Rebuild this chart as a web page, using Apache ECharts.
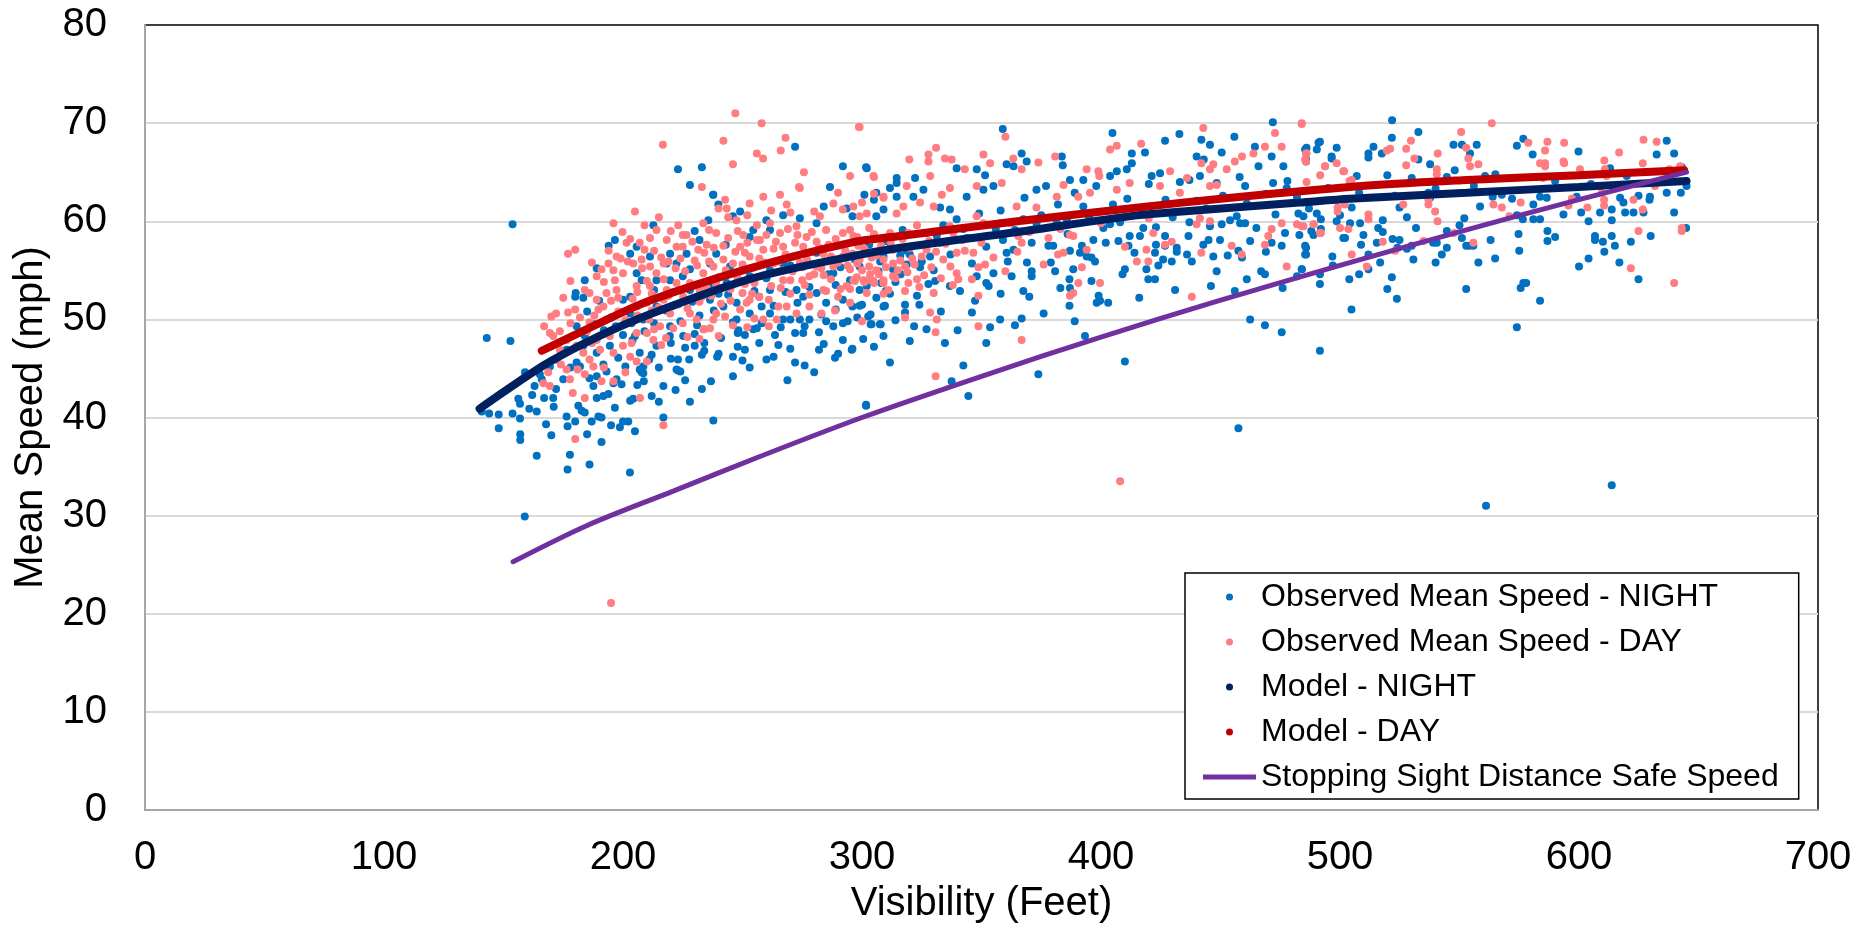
<!DOCTYPE html>
<html>
<head>
<meta charset="utf-8">
<title>Mean Speed vs Visibility</title>
<script src="https://cdn.jsdelivr.net/npm/echarts@6/dist/echarts.min.js"></script>
<style>
  html, body { margin: 0; padding: 0; background: #ffffff; }
  #chart { width: 1866px; height: 929px; }
</style>
</head>
<body>
<div id="chart"></div>
<script>
"use strict";

// [visibility (ft), mean speed (mph)]
var nightObserved = [
  [153.8,59.7],[143,48.1],[152.9,47.8],[140.9,40.6],[144,40.4],[148,40.3],[148,38.9],[153.8,40.4],[156.9,39.9],[157,38.3],
  [157,37.7],[160.8,40.9],[163.9,40.6],[167.8,39.3],[163.9,36.1],[158.9,29.9],[156.2,41.9],[156.9,41.4],[163,43.2],[166,43.9],
  [167,42.0],[170.8,42.0],[172,42.9],[176.4,40.1],[176.8,39.1],[177.8,36.2],[176.8,34.7],[180,39.6],[181.3,41.2],[182.7,40.7],
  [184,40.5],[186,35.2],[186.9,39.6],[189.7,40.1],[191,40.0],[191,37.5],[189,42.0],[191.8,42.2],[193.9,42.4],[196.6,41.0],
  [198.7,39.0],[200,39.6],[202.2,39.6],[202.9,34.4],[203,41.7],[204.3,41.9],[216.9,40.0],[237.8,39.7],[233,42.9],[236.8,43.7],
  [223,44.8],[224,44.7],[227.7,45.9],[216.9,43.2],[208.5,45.2],[208.7,43.7],[208.5,44.5],[189,55.2],[194,57.5],[196.6,58.1],
  [203,56.7],[212.7,59.6],[237.8,62.7],[239.9,61.7],[235.7,60.1],[246,60.5],[249,61.0],[230,59.0],[232,58.1],[267,60.6],
  [274,60.3],[286.6,63.5],[301,62.7],[305,62.2],[314.5,63.9],[314.5,62.5],[302.6,50.3],[307.5,49.5],[304,49.5],[309,48.3],
  [311.7,45.6],[301.7,41.2],[295.7,46.9],[288.7,46.1],[282,48.7],[284,47.5],[282,46.9],[272,45.6],[268.8,43.8],[275.4,48.6],
  [272,48.6],[263.6,48.4],[266,49.2],[253,45.1],[251,46.9],[246,46.2],[254.5,49.0],[256,49.1],[248,48.6],[248.3,48.9],
  [240,46.5],[239.4,46.2],[234,46.8],[233,46.4],[230,47.3],[230,48.5],[220,47.6],[219.6,48.3],[223,45.9],[222.4,44.9],
  [207,44.9],[207.8,44.6],[211,45.9],[191.8,45.4],[193.1,44.7],[196,43.5],[197.3,43.9],[199.4,43.4],[186,44.0],[187.6,43.2],
  [189,44.2],[180.6,45.6],[182,45.2],[184,54.0],[183.4,52.2],[180,52.3],[180.2,52.7],[180.6,49.3],[182.7,48.6],[184,48.3],
  [203,50.6],[203.6,49.6],[200,48.4],[200,52.0],[203,52.3],[205.7,54.7],[207.8,54.0],[214,54.0],[213,53.0],[225,54.4],
  [228,55.1],[222.4,55.7],[226.6,56.7],[243.4,53.7],[247.5,51.7],[257,52.3],[261.5,53.0],[258,51.3],[272.6,53.0],[275.4,52.3],
  [281,52.7],[285,51.7],[292,52.0],[296,51.3],[300,51.5],[274,50.0],[270,50.0],[289,53.5],[295,54.0],[302,53.4],
  [308,53.7],[313,55.1],[312,57.4],[309,61.2],[306,60.5],[296,60.5],[293.6,61.3],[281,59.8],[284,61.5],[260,60.1],
  [261.5,59.1],[254.5,59.1],[253,58.4],[243,57.6],[239,56.7],[219.7,56.7],[218.3,55.7],[205.7,57.4],[211.3,56.4],[219.7,54.0],
  [228,53.0],[236.4,52.0],[242,51.3],[247.5,50.0],[253,50.6],[261.5,50.6],[267,50.0],[278,50.0],[288,49.3],[292,49.6],
  [300.5,48.0],[309,51.3],[267,55.7],[275.4,55.4],[288,54.7],[299,55.4],[309,56.4],[261.5,55.0],[253,54.4],[244.8,55.4],
  [236.4,55.7],[214,51.3],[208.5,50.0],[219.7,49.3],[225.2,48.3],[214,47.3],[207,46.6],[194.5,47.3],[189,46.6],[183.4,47.3],
  [176.4,46.9],[172.2,45.9],[169.4,45.2],[165.2,44.4],[223,65.3],[233,65.5],[228,63.7],[237.7,62.7],[272,67.6],[292,65.6],
  [301.7,65.5],
  [185,50.8],[188,49.5],[192,48.9],[195,50.2],[198,46.1],[201,45.2],[204,47.9],[206,43.3],[209,48.8],[212,46.4],
  [215,45.1],[218,50.9],[220,46.0],[224,49.8],[226,47.1],[229,51.8],[231,49.4],[234,47.6],[236,53.5],[238,50.9],
  [241,48.1],[244,52.5],[246,49.7],[249,53.8],[251,48.4],[255,52.9],[258,49.6],[260,54.2],[263,51.4],[265,47.4],
  [268,52.8],[270,55.5],[273,51.7],[276,49.3],[278,53.3],[281,56.8],[283,50.5],[286,54.6],[289,51.0],[291,55.3],
  [294,49.8],[297,56.1],[299,53.0],[303,57.6],[306,52.2],[310,58.0],[314,53.8],[317,59.1],[320,56.6],[323,52.4],
  [327,58.8],[330,55.0],[334,59.6],[337,56.6],[341,52.9],[344,58.3],[346,55.7],[349,60.8],[352,57.4],[355,54.7],
  [358,61.1],[361,55.9],[364,59.1],[368,62.4],[371,57.8],[375,60.6],[379,55.8],[382,61.7],[386,58.7],[389,62.9],
  [392,57.5],[395,60.4],[398,63.6],[402,57.8],[405,61.7],[408,59.9],[411,62.3],[414,56.8],[417,61.1],[420,63.8],
  [423,59.4],[427,62.2],[430,60.4],[433,64.0],[437,59.9],[440,62.1],[444,61.3],[447,56.4],[451,62.6],[454,60.1],
  [458,64.5],[461,61.8],[465,59.3],[469,62.8],[473,60.7],[478,64.1],[482,62.5],[487,61.3],[495,63.4],[500,60.6],
  [508,62.9],[515,63.7],[523,62.6],[530,64.4],[540,63.3],[548,65.2],[556,63.6],[565,64.8],[572,62.3],[590,64.1],
  [605,63.8],[620,64.6],[635,64.2],[212,42.2],[222,42.8],[228,41.6],[246,44.2],[260,45.9],[280,44.6],[292,47.9],
  [175,43.9],[171,41.1],[178,45.1],[162,42.3],[159,44.6],
  [250,45.8],[257,47.6],[263,46.2],[270,47.0],[276,45.3],[285,49.8],[290,46.5],[298,50.2],[305,47.2],[314,49.9],
  [320,47.8],[327,49.0],[333,50.8],[340,48.9],[346,50.7],[352,47.6],[358,52.6],[364,49.4],[370,52.3],[376,50.6],
  [383,53.2],[389,49.8],[396,53.9],[403,51.7],[409,54.6],[416,52.2],[424,55.5],[431,53.0],[438,55.9],[446,53.4],
  [453,56.5],[461,54.1],[469,56.9],[476,53.2],[483,58.6],[497,55.5],[508,54.6],[516,59.3],[528,57.2],[540,55.8],
  [552,60.3],[563,58.1],[575,57.0],[590,58.4],[600,55.4],[615,57.5],[630,58.5],[190,51.9],[197,49.3],[205,48.3],
  [213,49.6],[221,51.4],[232,50.4],[240,52.6],[248,47.2],[195,39.2],[205,38.6],[215,41.6],[226,43.8],[185,38.3],
  [170,38.2],
  [358.9,69.4],[404.8,69.0],[432.8,68.9],[426.8,68.2],[418.4,67.0],[412.9,66.9],[455.8,68.6],[471.9,70.1],[491.6,68.1],[490.3,67.3],
  [498.6,67.5],[496.5,66.4],[442,68.3],[445.6,67.8],[450.5,67.0],[440,66.6],[443,66.3],[464.4,67.6],[465.9,65.6],[471.4,66.6],
  [476.3,65.6],[485.4,67.3],[485.8,66.1],[366.8,66.9],[368.9,66.1],[360.5,65.8],[363.4,65.6],[383.6,66.6],[384,65.7],[302,65.4],
  [314.5,64.4],[322.2,64.4],[339.6,65.4],[348,65.3],[351.5,64.7],[406.6,65.1],[410.8,65.3],[403.8,64.6],[412.9,65.9],[424.7,64.9],
  [421.2,64.6],[437,64.2],[441.4,64.6],[448.4,63.9],[460.3,63.6],[472,63.9],[477.7,63.4],[482.6,60.8],[490.3,60.8],[501.4,58.3],
  [456.8,60.5],[458.2,59.8],[460.3,59.8],[445.6,59.5],[450.5,59.7],[449.8,58.1],[462.4,58.0],[448.4,54.9],[456,52.9],[462.4,50.0],
  [468.6,49.4],[475.6,48.7],[491.6,46.8],[491.6,54.6],[491.6,53.6],[482,54.4],[484,55.1],[467,54.9],[468.6,54.6],[485.4,57.5],
  [485.4,56.6],[471.4,57.8],[475.6,57.5],[477,58.8],[457.5,57.0],[459,56.3],[436.6,58.5],[442.8,57.6],[445,58.1],[426.8,58.5],
  [426.8,57.5],[431.7,57.3],[423,57.6],[422.6,56.8],[426,56.1],[431.7,56.9],[436,56.6],[429.6,55.9],[419,55.1],[419.8,54.1],
  [422.6,54.1],[410,55.1],[407.3,58.0],[411.5,57.5],[412,58.5],[416.3,58.5],[417.7,59.3],[401,59.3],[403.8,59.7],[396.8,58.1],
  [396,56.3],[397.5,55.9],[399,52.4],[399.6,51.9],[398.2,51.7],[394,56.4],[391.2,56.8],[387,57.0],[388.4,55.1],[386.8,54.1],
  [387,53.2],[386.8,51.4],[380.8,54.9],[378,57.5],[380,57.5],[371,54.9],[371,54.4],[369,55.8],[367.5,52.9],[362.6,54.4],
  [360.5,56.8],[363.4,57.1],[366.8,50.1],[357.8,50.0],[353.6,49.2],[373.8,44.4],[352,53.7],[353,53.4],[348,54.4],[347.3,51.9],
  [336.8,53.4],[330.6,53.9],[327.8,53.6],[324.3,55.3],[325,55.9],[334.7,47.6],[337.5,43.7],[342.4,45.3],[344.5,42.2],[324,51.5],
  [318,50.7],[318,51.5],[321.8,49.3],[309.6,51.4],[299,51.4],[303.6,50.5],[303.6,49.5],[307.8,49.5],[296,47.0],[301.7,41.3],
  [310,52.9],[311.7,52.6],[316.2,54.6],[318.7,55.6],[316,56.5],[318.7,57.0],[307.6,55.9],[306.9,54.9],[410,45.7],[393.3,48.3],
  [457.5,38.9],[328.5,56.4],[332.7,57.8],[331.3,58.5],[339.6,60.2],[342.4,59.2],[356,59.2],[359,58.1],[367.5,60.2],[373,59.8],
  [381.5,59.8],[385.7,60.2],[392.6,61.5],[343.8,62.5],[350.8,63.2],[355,63.6],[373,63.2],[377,63.6],[387,64.2],[392.6,64.2],
  [321.5,62.5],[325.7,63.2],[306,62.9],[311.7,63.4],[332.7,61.4],[336.8,61.2],
  [521.8,70.3],[532.8,69.1],[576.7,68.4],[574,67.7],[636.7,68.2],[639.8,66.9],[632.5,66.8],[599.8,67.1],[491,68.0],[514,67.6],
  [511.9,66.9],[511.9,66.5],[517.5,66.9],[521.7,68.5],[519.8,64.7],[547.5,67.8],[551,67.8],[557.2,67.8],[554.4,66.9],[537.7,65.8],
  [532.8,66.3],[507,64.6],[544.7,64.5],[560.7,64.6],[486,67.5],[485.8,66.3],[496.5,66.6],[580.6,66.8],[643,65.5],[645,63.6],
  [642.6,62.9],[636.7,62.9],[639.8,60.9],[644.8,59.3],[629.7,62.5],[629.5,62.2],[624.9,62.6],[627,60.9],[622.8,60.9],[619.3,60.9],
  [621.7,57.9],[624.9,54.1],[616.9,55.8],[613.7,58.5],[613.7,60.1],[613.7,61.2],[617.2,62.4],[618.6,61.9],[613,65.4],[608.8,60.9],
  [610,57.9],[610.6,56.9],[606.7,58.5],[606.7,58.1],[604,56.2],[604,60.0],[600.9,60.9],[599,62.5],[593.5,60.7],[586.5,62.4],
  [586.8,59.0],[586.8,58.0],[583.7,62.5],[583.7,60.2],[580.9,60.2],[580.9,61.7],[583.7,51.9],[576.7,53.7],[575.6,53.2],[577.9,53.7],
  [574,49.2],[574.7,58.7],[574,60.6],[576.5,60.2],[564.9,56.2],[557.9,55.8],[552.8,53.1],[555.8,57.5],[554.1,57.5],[558.6,61.5],
  [550,59.6],[551,58.3],[552.8,57.5],[567.7,62.7],[563.9,62.5],[544.7,59.0],[544.7,57.3],[542.6,56.6],[539,57.8],[540.5,57.8],
  [537.7,62.4],[537,62.9],[530.7,56.1],[530,57.5],[531.8,59.3],[524.9,61.4],[528,60.4],[524,57.3],[522,58.2],[524.9,58.1],
  [521.7,54.3],[519.8,53.1],[523.8,52.1],[517.9,60.1],[517.9,58.9],[516.8,55.8],[515.4,57.8],[511.9,56.6],[511.9,55.1],[509.8,58.6],
  [508.8,57.6],[508.4,59.8],[504.9,61.4],[504.2,59.8],[503.9,54.1],[504.8,51.0],[502.1,58.3],[498.6,60.0],[496.8,56.4],[492,60.2],
  [492,59.2],[485.8,57.3],[485.8,56.6],[484,55.1],[488,59.0],[488.9,58.6],[484.7,60.5],[561.1,31.0],[613.7,33.1]
];

var dayObserved = [
  [177,56.7],[180,57.1],[199.8,58.9],[167,49.3],[170,50.3],[169.4,48.6],[173.6,48.8],[177,50.7],[180,51.0],[168.7,44.6],
  [166.7,43.5],[169.4,43.2],[176.4,44.9],[177.8,43.9],[179,42.5],[180,37.8],[184,44.4],[187.6,45.2],[184,42.0],[184,53.0],
  [186,52.7],[189,54.4],[189.7,51.0],[191.8,51.3],[193,50.0],[193.9,55.7],[196,55.0],[196.6,54.0],[204.3,55.7],[207.8,56.1],
  [211.3,55.4],[207,57.8],[211.3,58.3],[214,59.1],[203.6,47.6],[203,46.2],[205.7,45.7],[210,45.7],[207.1,42.0],[216.9,39.2],
  [196,43.7],[191,43.7],[217,55.7],[222.4,57.4],[223.1,59.6],[226.6,58.6],[231.5,57.1],[235,57.6],[228,50.6],[230.8,50.0],
  [233.6,49.0],[237.8,50.0],[239,50.6],[242.7,50.3],[234,49.0],[236.4,49.1],[242.7,62.2],[243.4,61.3],[253,61.8],[258.7,62.5],
  [265.7,62.7],[268.5,61.7],[274,63.4],[250.3,58.6],[256,59.6],[261.5,59.8],[250,52.7],[253,52.0],[257,52.3],[265,51.3],
  [268.5,51.3],[267,54.0],[270,54.0],[275,54.0],[278,54.4],[281,55.4],[282.4,60.5],[288,61.8],[292,61.2],[299,60.5],
  [305,62.8],[309,62.5],[288.7,50.9],[293.6,53.4],[296.4,54.0],[302,54.0],[305,53.7],[309,54.0],[306,55.0],[313,54.4],
  [314.5,60.8],[258.7,50.0],[255,50.1],[249,51.0],[251.7,51.7],
  [197.3,53.0],[200,54.7],[205.7,53.4],[211.3,53.4],[214,54.7],[218.3,53.0],[222.4,53.7],[225.2,52.3],[232,53.0],[233.6,54.7],
  [237.8,55.4],[242,56.1],[246,55.7],[249,57.4],[253,56.4],[258.7,57.1],[263,55.7],[267,57.4],[271.3,56.4],[275.4,57.4],
  [278,55.7],[283.8,56.7],[288,55.4],[292,56.4],[295,55.1],[299,56.1],[303,55.4],[309,56.1],[313,55.7],[211,50.0],
  [215.5,49.3],[219.7,50.6],[225,49.6],[205.7,48.6],[212.7,47.9],[200,47.3],[194.5,48.3],[190.4,46.9],[186,45.9],[183.4,46.6],
  [180.6,47.3],[176.4,47.9],[173.6,46.9],[170.8,48.3],[189,47.9],[205.7,51.3],[210,51.7],[217,52.0],[193.1,52.7],[189,52.0],
  [197.3,56.4],[201.5,57.8],[218.3,58.1],[225,57.4],[233.6,59.8],[239,58.8],[247.5,60.1],[257.3,58.1],[265.7,58.8],[272.6,59.5],
  [276.8,58.4],[285,59.1],[295,59.1],[303.3,58.1],[311.7,58.8],[278,51.3],[283.8,53.0],[295,51.7],[264.3,50.0],[272.6,50.6],
  [192,53.8],[195,51.9],[198,50.8],[201,49.9],[204,52.1],[206,50.4],[208,55.2],[210,53.9],[212,52.6],[215,51.2],
  [217,54.1],[219,55.9],[221,52.8],[223,51.5],[224,56.2],[226,54.9],[228,53.7],[229,57.9],[231,55.5],[232,51.8],
  [234,56.8],[235,53.2],[237,52.4],[238,57.3],[240,54.3],[241,51.6],[243,55.0],[244,58.3],[245,53.1],[247,56.9],
  [248,54.2],[250,55.6],[251,53.6],[252,57.8],[254,55.2],[255,53.7],[257,56.2],[259,54.5],[260,58.6],[262,53.4],
  [263,57.2],[265,55.9],[266,53.2],[268,56.6],[269,59.2],[271,54.9],[272,57.8],[274,55.8],[276,53.5],[277,56.1],
  [279,58.9],[280,54.6],[282,57.3],[283,55.2],[285,52.9],[286,57.6],[287,54.1],[289,58.2],[290,55.8],[291,53.1],
  [293,57.0],[294,55.5],[296,56.7],[297,53.9],[298,58.4],[300,55.0],[301,57.2],[302,52.7],[304,56.3],[305,58.7],
  [307,54.6],[308,57.5],[310,55.3],[311,53.0],[313,57.1],[314,54.2],[316,56.0],[317,58.2],[319,54.8],[320,57.3],
  [322,55.6],[323,59.6],[325,56.4],[326,54.5],[328,58.0],[329,55.3],[331,56.9],[333,54.2],[335,57.7],[337,55.4],
  [210,48.6],[216,47.4],[221,49.1],[227,48.2],[182,50.2],[186,49.7],[188,50.4],[178,49.6],[175,52.2],[199,56.2],
  [203,58.2],[209,59.6],[213,57.0],[220,59.0],[236,59.1],[244,60.4],[252,60.6],[262,61.1],[270,60.9],[280,61.0],
  [290,62.9],[240,61.3],[215,60.4],[205,61.0],[196,59.8],
  [191,55.1],[194,57.0],[198,52.2],[202,55.9],[206,52.8],[209,57.1],[212,50.9],[216,56.3],[219,52.4],[222,55.2],
  [225,58.6],[227,51.1],[230,56.0],[233,52.3],[236,55.9],[239,53.6],[242,57.5],[245,51.9],[248,59.0],[251,56.8],
  [254,52.6],[256,58.1],[259,55.8],[261,52.0],[264,57.9],[267,55.0],[270,52.6],[273,58.6],[275,55.3],[278,52.5],
  [281,57.9],[284,54.5],[287,56.4],[290,52.3],[292,58.8],[295,53.1],[298,55.7],[301,53.8],[303,59.3],[306,56.5],
  [309,52.6],[312,57.9],[315,55.0],[318,52.9],[321,56.2],[324,53.3],[327,57.1],[330,52.7],[334,56.1],[338,53.5],
  [342,58.1],[346,54.1],[350,57.8],[355,56.3],[360,54.9],[365,56.9],[370,58.9],[376,55.6],[383,59.2],[392,55.3],
  [400,59.8],[410,57.4],[420,60.3],[185,48.8],[181,44.9],[187,47.6],[192,45.1],[196,46.6],[201,44.6],[174,45.4],
  [172,50.6],[178,53.9],[187,55.8],[213,49.0],[218,48.1],[232,48.0],[240,48.3],[246,49.4],[252,49.2],[261,49.3],
  [283,50.6],[300,49.8],[318,50.2],
  [216.7,67.8],[247,71.0],[258,70.0],[242,68.2],[268,68.5],[266,67.2],[256,66.9],[258.6,66.4],[246,65.8],[298.7,69.6],
  [233,63.5],[275.7,65.0],[273.6,63.5],[295,64.6],[305,64.5],[195,21.1],[408,33.5],
  [299,69.6],[360,68.6],[331,67.5],[327.8,66.8],[327.8,66.1],[319.8,66.3],[334.7,66.4],[337.5,66.3],[350.8,66.8],[353.6,65.9],
  [363.3,66.4],[366.8,65.3],[373.8,66.0],[380.8,66.6],[394,65.3],[398.9,65.1],[399.3,64.6],[403.8,67.3],[406.6,67.7],[416.8,67.9],
  [442.8,69.5],[442,65.9],[472.8,69.0],[475.6,67.6],[484,69.9],[468.6,67.6],[463.8,66.9],[486,66.9],[485.4,66.3],[493.7,65.6],
  [501.4,65.1],[456,66.1],[452.6,65.3],[459,66.6],[447,65.8],[445.6,65.3],[428.9,65.1],[436,64.4],[424.7,63.6],[433,62.9],
  [412,63.9],[406.6,63.2],[445.6,63.6],[448.4,63.7],[440,59.7],[441.4,60.3],[445.6,60.0],[468.6,57.6],[470,58.5],[482,59.7],
  [484.7,59.5],[489,59.7],[471.4,59.2],[475.6,59.8],[491.6,58.8],[500,59.3],[454.7,57.5],[458.9,56.6],[477.7,55.4],[442,56.8],
  [421.9,58.8],[419,57.1],[415,55.9],[419.8,55.9],[426.8,57.6],[429.6,57.9],[438,52.3],[378,58.3],[382,56.6],[384.3,56.8],
  [387,58.6],[388.4,58.5],[394,57.1],[399.6,53.7],[390.5,53.7],[387,52.4],[388.4,52.7],[366.8,57.8],[365.4,58.5],[357.8,59.8],
  [362,59.8],[348,60.5],[350.8,59.8],[336.8,59.5],[338.2,58.8],[339.6,56.8],[343,57.0],[346.6,56.8],[348.7,55.3],[351.5,55.6],
  [339.6,54.7],[340.3,54.1],[348.7,52.4],[348.7,49.3],[366.8,47.9],[330.8,48.7],[330.8,44.2],[328.5,50.7],[331.3,50.0],[323,54.1],
  [319.4,53.7],[318,55.4],[309,53.7],[304.8,53.9],[300.6,54.0],[303.4,54.6],[297.8,54.3],[298.5,57.5],[296.4,58.5],[303.4,58.1],
  [311.7,58.5],[319.4,58.8],[302,60.8],[309,62.4],[296.4,61.5],[300,61.9],[317.3,61.5],[324.3,61.9],[330,61.5],[318.7,63.6],
  [328.5,64.6],[333.4,62.7],[336.8,63.4],[304.8,64.6],[343,65.3],[348,63.6],[358.5,63.9],[364.7,61.5],[373,61.4],[381.5,62.5],
  [384.3,63.7],[390.5,62.5],[395.4,62.9],
  [563.5,70.0],[484,70.0],[550.7,69.1],[529.7,68.2],[527.7,67.4],[521,67.4],[519.6,67.2],[552.8,67.5],[553.7,66.4],[554.4,65.6],
  [557.9,65.8],[531.1,66.4],[527.7,65.7],[540.9,66.9],[540.5,65.3],[540.5,64.8],[578.8,68.0],[586.8,68.1],[585.8,67.2],[593.8,68.0],
  [593.5,66.1],[593.8,65.9],[585.8,65.9],[585.8,65.6],[627,68.3],[632.5,68.1],[616.8,67.0],[610.6,66.2],[626.7,65.9],[610.8,65.3],
  [611.5,64.6],[637.8,65.3],[642.3,65.6],[485.8,66.9],[485.8,66.1],[493.8,65.6],[498.6,65.9],[501.7,65.1],[491.7,64.7],[486,64.0],
  [504.9,64.2],[504,64.1],[499,61.4],[499,61.0],[502,61.7],[503.5,59.2],[504.9,56.6],[492,58.8],[488.9,59.7],[484,59.5],
  [511.9,60.7],[511.9,60.2],[511.2,55.4],[517.9,57.9],[523,57.0],[526.5,61.7],[537,61.7],[537,62.2],[539.8,61.0],[540.8,60.0],
  [534.9,58.0],[547.7,58.8],[555.8,57.8],[564.2,61.7],[567.7,61.4],[570.9,60.5],[575.6,61.9],[595.6,61.6],[597,62.3],[603.5,61.4],
  [610.5,61.6],[622.8,62.2],[626.7,61.2],[624.9,59.0],[621.7,55.2],[643,59.3],[643,59.0],[639.8,53.7],[609.5,62.9],[610.5,62.2],
  [631.8,63.6],[585,64.4],[583.7,65.9],[600.4,65.3]
];

var nightModel = [
  [140,40.9],[153,43.1],[169.5,45.7],[190,48.3],[211,50.5],[253,54.1],[295,56.4],[316,57.3],
  [365,58.9],[415,60.6],[434,61.0],[483,61.9],[504,62.3],[553,62.9],[600,63.5],[645,64.1]
];

var dayModel = [
  [166,46.8],[190,49.6],[211,51.9],[253,55.2],[295,57.8],[316,58.5],[365,60.0],[434,61.9],
  [504,63.5],[553,64.2],[600,64.7],[644,65.2]
];

var ssdLine = [
  [154,25.3],[185,29],[221,32.5],[257,36],[300,40],[350,44.2],[400,48.2],[448,51.8],
  [500,55.5],[551,59],[600,62.2],[645,65]
];

var seriesNames = [
  "Observed Mean Speed - NIGHT",
  "Observed Mean Speed - DAY",
  "Model - NIGHT",
  "Model - DAY",
  "Stopping Sight Distance Safe Speed"
];

var xRange = { min: 0, max: 700, step: 100 };
var yRange = { min: 0, max: 80, step: 10 };

var FONT = "'Liberation Sans', Arial, sans-serif";

var chart = echarts.init(document.getElementById("chart"), null, { renderer: "canvas" });

var option = {
  animation: false,
  backgroundColor: "#ffffff",
  textStyle: { fontFamily: FONT, color: "#000000" },
  grid: {
    left: 145,
    right: 48,
    top: 25,
    bottom: 117,
    show: true,
    borderColor: "#000000",
    borderWidth: 1.5,
    backgroundColor: "transparent"
  },
  legend: {
    orient: "vertical",
    left: 1185,
    top: 573,
    padding: [8, 20, 6, 18],
    itemGap: 13,
    itemWidth: 53,
    itemHeight: 7,
    backgroundColor: "#ffffff",
    borderColor: "#000000",
    borderWidth: 1.5,
    textStyle: { fontSize: 32, color: "#000000", fontFamily: FONT },
    data: [
      { name: seriesNames[0], icon: "circle" },
      { name: seriesNames[1], icon: "circle" },
      { name: seriesNames[2], icon: "circle" },
      { name: seriesNames[3], icon: "circle" },
      { name: seriesNames[4], icon: "path://M0,0 L53,0 L53,5 L0,5 Z" }
    ]
  },
  xAxis: {
    type: "value",
    min: xRange.min,
    max: xRange.max,
    interval: xRange.step,
    name: "Visibility (Feet)",
    nameLocation: "middle",
    nameGap: 74,
    nameTextStyle: { fontSize: 40, color: "#000000", fontFamily: FONT },
    axisLine: { show: true, lineStyle: { color: "#a6a6a6", width: 2 } },
    axisTick: { show: false },
    splitLine: { show: false },
    axisLabel: { fontSize: 40, color: "#000000", margin: 28, fontFamily: FONT }
  },
  yAxis: {
    type: "value",
    min: yRange.min,
    max: yRange.max,
    interval: yRange.step,
    name: "Mean Speed (mph)",
    nameLocation: "middle",
    nameRotate: 90,
    nameGap: 94,
    nameTextStyle: { fontSize: 40, color: "#000000", fontFamily: FONT },
    axisLine: { show: true, lineStyle: { color: "#a6a6a6", width: 2 } },
    axisTick: { show: false },
    splitLine: {
      show: true,
      showMinLine: false,
      showMaxLine: false,
      lineStyle: { color: "#d9d9d9", width: 2 }
    },
    axisLabel: { fontSize: 40, color: "#000000", margin: 38, fontFamily: FONT }
  },
  series: [
    {
      name: seriesNames[0],
      type: "scatter",
      data: nightObserved,
      symbolSize: 8,
      itemStyle: { color: "#0070C0", opacity: 1 }
    },
    {
      name: seriesNames[1],
      type: "scatter",
      data: dayObserved,
      symbolSize: 8,
      itemStyle: { color: "#FF7C80", opacity: 1 }
    },
    {
      name: seriesNames[2],
      type: "line",
      data: nightModel,
      smooth: 0.3,
      showSymbol: false,
      itemStyle: { color: "#002060" },
      lineStyle: { color: "#002060", width: 8, cap: "round" }
    },
    {
      name: seriesNames[3],
      type: "line",
      data: dayModel,
      smooth: 0.3,
      showSymbol: false,
      itemStyle: { color: "#C00000" },
      lineStyle: { color: "#C00000", width: 8, cap: "round" }
    },
    {
      name: seriesNames[4],
      type: "line",
      data: ssdLine,
      smooth: 0.3,
      showSymbol: false,
      itemStyle: { color: "#7030A0" },
      lineStyle: { color: "#7030A0", width: 5, cap: "round" }
    }
  ]
};

chart.setOption(option);
</script>
</body>
</html>
